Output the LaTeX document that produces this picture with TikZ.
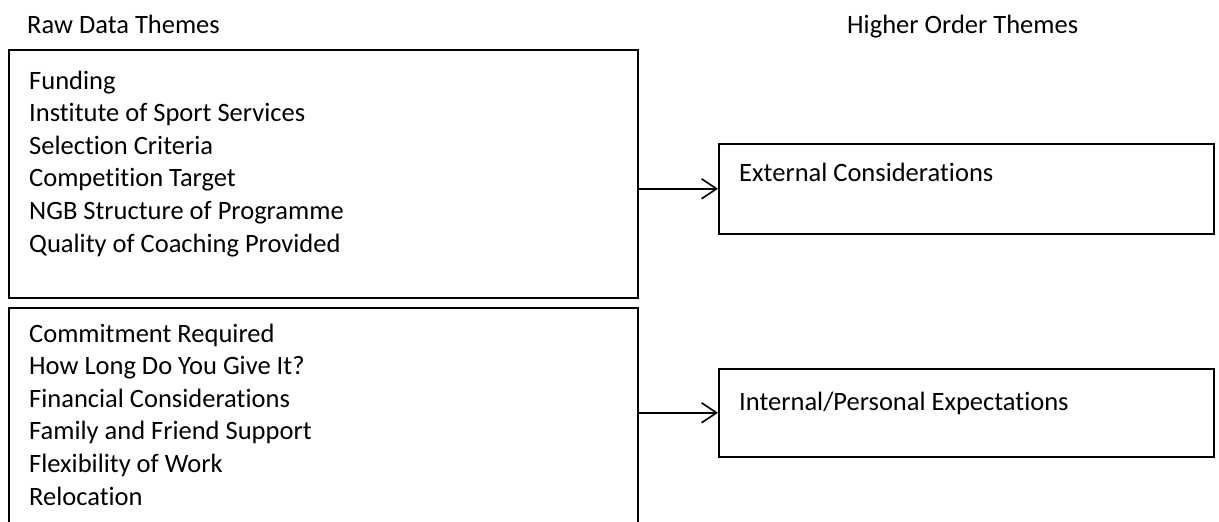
\documentclass[tikz,border=0pt]{standalone}
\usepackage{fontspec}
\setmainfont{Carlito}[Ligatures=NoCommon]
\usetikzlibrary{arrows.meta,positioning}

\tikzset{
  frame/.style={draw=black, line width=1.6pt, inner sep=0pt, anchor=north west},
  item/.style={inner sep=0pt, anchor=base west, font=\fontsize{26.5}{32}\selectfont},
  link/.style={line width=1.6pt, -{Straight Barb[length=15pt,width=20pt,line width=1.6pt]}}
}

\begin{document}
\begin{tikzpicture}[x=1pt, y=-1pt]
  \useasboundingbox (0,0) rectangle (1219,522);

  %%%%% headings %%%%%
  \node[item] (rawhead) at (27,33) {Raw Data Themes};
  \node[item] (highhead) at (847,33) {Higher Order Themes};

  %%%%% left boxes %%%%%
  \node[frame, minimum width=629pt, minimum height=248pt] (rawtop) at (8,49) {};
  \node[frame, minimum width=629pt, minimum height=260pt] (rawbot) at (8,307) {};

  \foreach \txt [count=\i] in {Funding, Institute of Sport Services, Selection Criteria,
      Competition Target, NGB Structure of Programme, Quality of Coaching Provided}
    \node[item] (ext\i) at (29,{89+(\i-1)*32.6}) {\txt};

  \foreach \txt [count=\i] in {Commitment Required, How Long Do You Give It?,
      Financial Considerations, Family and Friend Support, Flexibility of Work, Relocation}
    \node[item] (int\i) at (29,{342+(\i-1)*32.6}) {\txt};

  %%%%% right boxes %%%%%
  \node[frame, minimum width=495pt, minimum height=90pt] (extbox) at (718,143) {};
  \node[frame, minimum width=495pt, minimum height=88pt] (intbox) at (718,368) {};
  \node[item] (extlabel) at (739,181) {External Considerations};
  \node[item] (intlabel) at (739,410) {Internal/Personal Expectations};

  %%%%% arrows %%%%%
  \draw[link] (extbox.west -| rawtop.east) -- (extbox.west);
  \draw[link] (intbox.west -| rawbot.east) -- (intbox.west);
\end{tikzpicture}
\end{document}
